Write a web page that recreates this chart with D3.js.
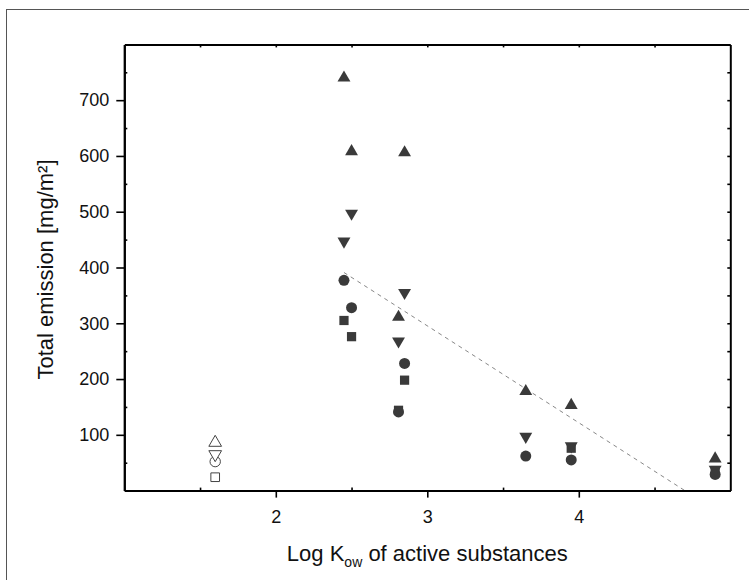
<!DOCTYPE html>
<html><head><meta charset="utf-8">
<script src="https://cdn.jsdelivr.net/npm/d3@7"></script>
<style>body{margin:0;background:#fff;} svg{display:block;font-family:"Liberation Sans",Arial,sans-serif;}</style>
</head><body>
<svg id="chart" width="749" height="580"></svg>
<script>
// Data
const kow        = [2.45, 2.50, 2.81, 2.85, 3.65, 3.95, 4.90];
const triUp      = [740, 608, 311, 606, 178, 153, 57];
const triDown    = [447, 497, 268, 355, 97, 80, 38];
const circles    = [377, 328, 141, 228, 62, 55, 29];
const squares    = [305, 276, 144, 198, null, 76, 36];
const refKow     = [1.60];
const refTriUp   = [86];
const refTriDown = [65];
const refCircle  = [52];
const refSquare  = [24];
const trendX     = [2.45, 4.70];
const trendY     = [391, 0];
const xTicks     = [2, 3, 4];
const yTicks     = [100, 200, 300, 400, 500, 600, 700];

const svg = d3.select("#chart");
const L = 124.3, R = 730.3, T = 44.4, B = 490.6;
const x = d3.scaleLinear().domain([1, 5]).range([L, R]);
const y = d3.scaleLinear().domain([0, 800]).range([B, T]);

// outer frame
svg.append("rect").attr("x", 6.5).attr("y", 9.5).attr("width", 760).attr("height", 600)
  .attr("fill", "none").attr("stroke", "#555").attr("stroke-width", 1);

const dark = "#3a3a3a";

// trend line
svg.append("line")
  .attr("x1", x(trendX[0])).attr("y1", y(trendY[0]))
  .attr("x2", x(trendX[1])).attr("y2", y(trendY[1]))
  .attr("stroke", "#888").attr("stroke-width", 1).attr("stroke-dasharray", "4,4");

// axes
const xMinor = d3.range(1.5, 5, 0.5);
const yMinor = d3.range(50, 800, 50);
const ax = svg.append("g");
ax.append("g").attr("transform", `translate(0,${B})`)
  .call(d3.axisBottom(x).tickValues(xTicks).tickSize(7).tickSizeOuter(0).tickPadding(13).tickFormat(d3.format("d")));
ax.append("g").attr("transform", `translate(${L},0)`)
  .call(d3.axisLeft(y).tickValues(yTicks).tickSize(8).tickSizeOuter(0).tickPadding(7).tickFormat(d3.format("d")));
ax.append("g").attr("transform", `translate(0,${B})`)
  .call(d3.axisTop(x).tickValues(xMinor.filter(v => !xTicks.includes(v))).tickSize(3).tickSizeOuter(0).tickFormat(""));
ax.append("g").attr("transform", `translate(${L},0)`)
  .call(d3.axisRight(y).tickValues(yMinor.filter(v => !yTicks.includes(v))).tickSize(3).tickSizeOuter(0).tickFormat(""));
ax.append("g").attr("transform", `translate(0,${T})`)
  .call(d3.axisBottom(x).tickValues(xMinor).tickSize(3).tickSizeOuter(0).tickFormat(""));
ax.append("g").attr("transform", `translate(${R},0)`)
  .call(d3.axisLeft(y).tickValues(yMinor).tickSize(3).tickSizeOuter(0).tickFormat(""));
ax.selectAll(".domain").attr("stroke", "#000").attr("stroke-width", 2);
ax.selectAll(".tick line").attr("stroke", "#000").attr("stroke-width", 1.6);
ax.selectAll(".tick text").attr("font-size", 18).attr("fill", "#111")
  .attr("font-family", "'Liberation Sans', Arial, sans-serif");

// axis titles
svg.append("text").attr("transform", `translate(53,${(T + B) / 2 + 2}) rotate(-90)`)
  .attr("text-anchor", "middle").attr("font-size", 22).attr("fill", "#111")
  .text("Total emission [mg/m²]");
const xt = svg.append("text").attr("x", x(3)).attr("y", 561)
  .attr("text-anchor", "middle").attr("font-size", 22).attr("fill", "#111");
xt.append("tspan").text("Log K");
xt.append("tspan").attr("font-size", 14).attr("dy", 6).text("ow");
xt.append("tspan").attr("dy", -6).text(" of active substances");

// markers
function plot(xs, ys, type, size, filled, rot) {
  const pts = xs.map((v, i) => ({ x: v, y: ys[i] })).filter(d => d.y != null);
  svg.append("g").selectAll("path").data(pts).join("path")
    .attr("d", d3.symbol().type(type).size(size)())
    .attr("transform", d => `translate(${x(d.x)},${y(d.y)}) rotate(${rot})`)
    .attr("fill", filled ? dark : "#fff")
    .attr("stroke", filled ? "none" : "#444")
    .attr("stroke-width", 1);
}
plot(kow, squares, d3.symbolSquare, 85, true, 0);
plot(kow, circles, d3.symbolCircle, 95, true, 0);
plot(kow, triUp, d3.symbolTriangle, 72, true, 0);
plot(kow, triDown, d3.symbolTriangle, 72, true, 180);
plot(refKow, refSquare, d3.symbolSquare, 75, false, 0);
plot(refKow, refCircle, d3.symbolCircle, 85, false, 0);
plot(refKow, refTriUp, d3.symbolTriangle, 70, false, 0);
plot(refKow, refTriDown, d3.symbolTriangle, 70, false, 180);
</script>
</body></html>
